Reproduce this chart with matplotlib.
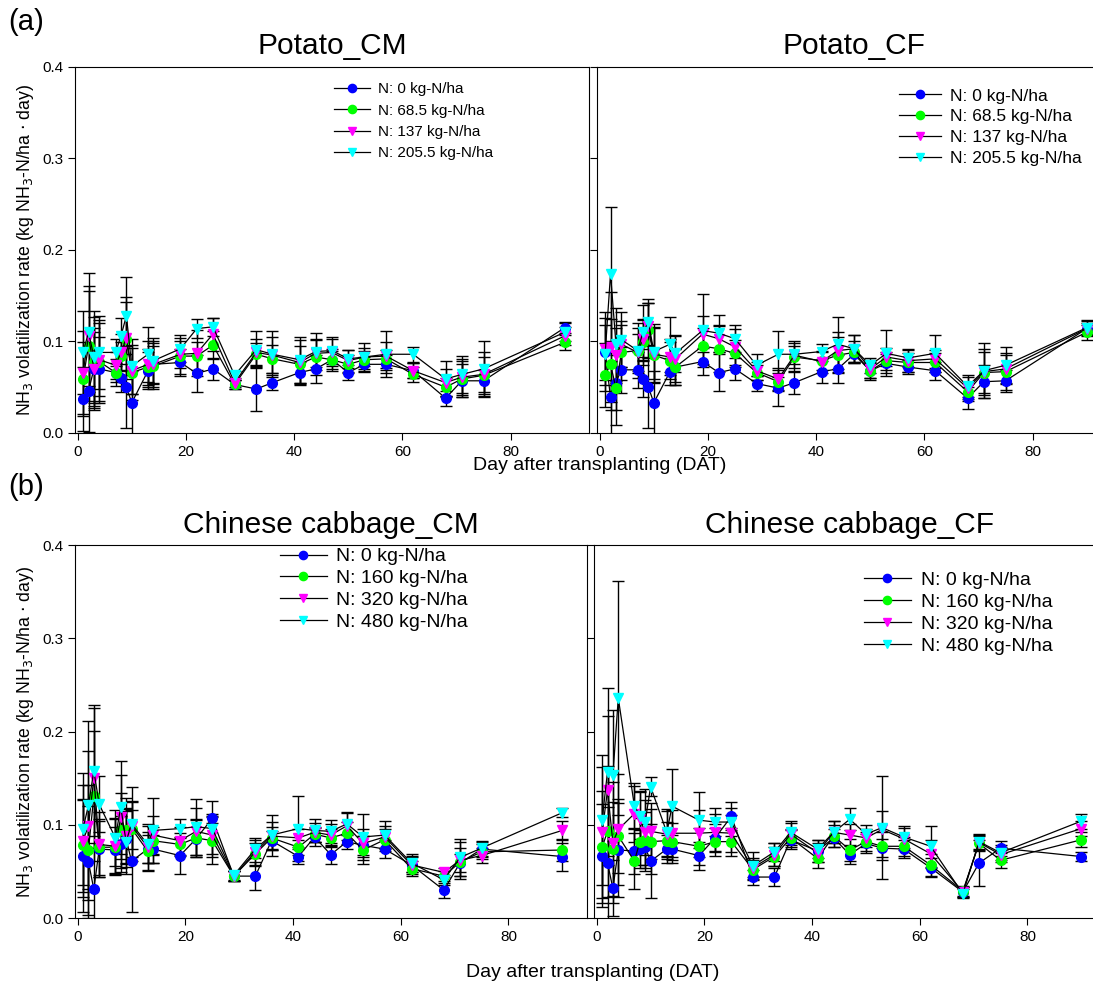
import matplotlib
matplotlib.use('Agg')
import matplotlib.pyplot as plt
import numpy as np

plt.rcParams['font.family'] = ['Liberation Sans', 'DejaVu Sans']

# dias de muestreo (iguales en los cuatro paneles)
days = [1, 2, 3, 4, 7, 8, 9, 10, 13, 14, 19, 22, 25, 29, 33, 36, 41, 44, 47, 50, 53, 57, 62, 68, 71, 75, 90]

labels_potato = ['N: 0 kg-N/ha', 'N: 68.5 kg-N/ha', 'N: 137 kg-N/ha', 'N: 205.5 kg-N/ha']
labels_cabbage = ['N: 0 kg-N/ha', 'N: 160 kg-N/ha', 'N: 320 kg-N/ha', 'N: 480 kg-N/ha']

# Potato_CM
pcm_0 = [0.037, 0.046, 0.070, 0.070, 0.066, 0.060, 0.050, 0.033, 0.068, 0.075, 0.077, 0.065, 0.070, 0.053, 0.048, 0.055, 0.066, 0.070, 0.080, 0.066, 0.075, 0.075, 0.068, 0.038, 0.057, 0.057, 0.115]
pcm_1 = [0.059, 0.095, 0.077, 0.078, 0.066, 0.084, 0.103, 0.066, 0.072, 0.073, 0.084, 0.084, 0.096, 0.053, 0.086, 0.081, 0.075, 0.083, 0.080, 0.075, 0.080, 0.081, 0.064, 0.050, 0.059, 0.063, 0.099]
pcm_2 = [0.066, 0.106, 0.070, 0.080, 0.074, 0.088, 0.104, 0.068, 0.075, 0.075, 0.086, 0.087, 0.108, 0.055, 0.088, 0.085, 0.077, 0.087, 0.088, 0.079, 0.083, 0.084, 0.068, 0.055, 0.061, 0.064, 0.106]
pcm_3 = [0.088, 0.110, 0.083, 0.088, 0.088, 0.106, 0.128, 0.073, 0.086, 0.079, 0.092, 0.114, 0.116, 0.063, 0.091, 0.086, 0.080, 0.089, 0.090, 0.081, 0.083, 0.086, 0.086, 0.059, 0.064, 0.070, 0.110]
pcm_e0 = [0.035, 0.045, 0.040, 0.035, 0.010, 0.015, 0.045, 0.035, 0.020, 0.020, 0.015, 0.020, 0.012, 0.005, 0.024, 0.008, 0.012, 0.015, 0.010, 0.008, 0.008, 0.010, 0.008, 0.008, 0.018, 0.012, 0.006]
pcm_e1 = [0.040, 0.060, 0.050, 0.045, 0.015, 0.015, 0.040, 0.030, 0.020, 0.025, 0.020, 0.015, 0.015, 0.005, 0.012, 0.015, 0.020, 0.020, 0.012, 0.010, 0.010, 0.010, 0.008, 0.010, 0.020, 0.020, 0.008]
pcm_e2 = [0.045, 0.055, 0.045, 0.040, 0.015, 0.020, 0.045, 0.025, 0.025, 0.025, 0.015, 0.025, 0.018, 0.005, 0.015, 0.020, 0.025, 0.015, 0.015, 0.012, 0.010, 0.015, 0.008, 0.015, 0.020, 0.025, 0.010]
pcm_e3 = [0.045, 0.065, 0.050, 0.040, 0.015, 0.020, 0.042, 0.030, 0.030, 0.025, 0.015, 0.010, 0.010, 0.005, 0.020, 0.025, 0.025, 0.020, 0.015, 0.010, 0.015, 0.025, 0.008, 0.020, 0.020, 0.030, 0.010]

# Potato_CF
pcf_0 = [0.088, 0.039, 0.055, 0.069, 0.069, 0.059, 0.050, 0.033, 0.067, 0.072, 0.078, 0.066, 0.070, 0.054, 0.049, 0.055, 0.067, 0.070, 0.086, 0.068, 0.076, 0.072, 0.068, 0.038, 0.056, 0.057, 0.114]
pcf_1 = [0.063, 0.075, 0.049, 0.088, 0.090, 0.099, 0.112, 0.085, 0.079, 0.072, 0.095, 0.092, 0.087, 0.066, 0.056, 0.083, 0.079, 0.085, 0.088, 0.068, 0.079, 0.077, 0.077, 0.045, 0.066, 0.067, 0.110]
pcf_2 = [0.092, 0.094, 0.085, 0.097, 0.088, 0.103, 0.117, 0.086, 0.083, 0.081, 0.108, 0.103, 0.094, 0.068, 0.059, 0.085, 0.078, 0.090, 0.092, 0.070, 0.083, 0.079, 0.081, 0.049, 0.067, 0.070, 0.114]
pcf_3 = [0.086, 0.174, 0.097, 0.102, 0.090, 0.110, 0.121, 0.089, 0.097, 0.087, 0.112, 0.109, 0.103, 0.074, 0.086, 0.086, 0.089, 0.097, 0.092, 0.074, 0.087, 0.082, 0.087, 0.051, 0.068, 0.074, 0.115]
pcf_e0 = [0.030, 0.040, 0.030, 0.025, 0.020, 0.020, 0.045, 0.035, 0.015, 0.020, 0.015, 0.020, 0.012, 0.008, 0.020, 0.012, 0.012, 0.015, 0.010, 0.008, 0.010, 0.008, 0.010, 0.012, 0.018, 0.012, 0.006]
pcf_e1 = [0.035, 0.050, 0.040, 0.030, 0.025, 0.025, 0.030, 0.030, 0.020, 0.020, 0.020, 0.025, 0.015, 0.008, 0.010, 0.015, 0.010, 0.020, 0.012, 0.010, 0.010, 0.010, 0.010, 0.010, 0.022, 0.020, 0.008]
pcf_e2 = [0.040, 0.060, 0.030, 0.025, 0.020, 0.020, 0.025, 0.030, 0.020, 0.025, 0.020, 0.015, 0.020, 0.010, 0.012, 0.010, 0.012, 0.020, 0.015, 0.010, 0.010, 0.012, 0.010, 0.012, 0.025, 0.015, 0.008]
pcf_e3 = [0.040, 0.073, 0.040, 0.030, 0.030, 0.030, 0.025, 0.030, 0.030, 0.020, 0.040, 0.020, 0.015, 0.012, 0.025, 0.015, 0.008, 0.030, 0.015, 0.008, 0.025, 0.010, 0.020, 0.012, 0.030, 0.020, 0.008]

# Chinese cabbage_CM
ccm_0 = [0.067, 0.060, 0.031, 0.074, 0.073, 0.079, 0.085, 0.061, 0.074, 0.074, 0.067, 0.085, 0.107, 0.045, 0.045, 0.083, 0.066, 0.087, 0.068, 0.082, 0.078, 0.074, 0.057, 0.030, 0.059, 0.074, 0.066]
ccm_1 = [0.078, 0.073, 0.131, 0.076, 0.076, 0.094, 0.094, 0.096, 0.072, 0.083, 0.079, 0.086, 0.083, 0.045, 0.069, 0.086, 0.076, 0.090, 0.086, 0.091, 0.073, 0.084, 0.053, 0.045, 0.060, 0.071, 0.073]
ccm_2 = [0.083, 0.099, 0.150, 0.079, 0.077, 0.108, 0.088, 0.099, 0.076, 0.089, 0.083, 0.093, 0.089, 0.045, 0.071, 0.088, 0.086, 0.092, 0.089, 0.099, 0.080, 0.087, 0.057, 0.049, 0.062, 0.067, 0.094]
ccm_3 = [0.096, 0.121, 0.158, 0.122, 0.086, 0.119, 0.082, 0.101, 0.079, 0.094, 0.096, 0.098, 0.096, 0.046, 0.074, 0.089, 0.096, 0.094, 0.093, 0.101, 0.087, 0.089, 0.059, 0.041, 0.065, 0.075, 0.113]
ccm_e0 = [0.060, 0.060, 0.050, 0.030, 0.025, 0.030, 0.030, 0.055, 0.015, 0.015, 0.020, 0.020, 0.005, 0.005, 0.015, 0.010, 0.008, 0.010, 0.010, 0.008, 0.010, 0.010, 0.008, 0.008, 0.010, 0.008, 0.015]
ccm_e1 = [0.050, 0.070, 0.070, 0.030, 0.030, 0.040, 0.035, 0.030, 0.020, 0.015, 0.012, 0.020, 0.025, 0.005, 0.012, 0.012, 0.008, 0.008, 0.010, 0.012, 0.015, 0.012, 0.008, 0.005, 0.015, 0.008, 0.012]
ccm_e2 = [0.060, 0.080, 0.075, 0.035, 0.030, 0.045, 0.030, 0.025, 0.025, 0.020, 0.015, 0.025, 0.020, 0.005, 0.015, 0.015, 0.010, 0.010, 0.012, 0.015, 0.015, 0.012, 0.010, 0.005, 0.020, 0.008, 0.010]
ccm_e3 = [0.060, 0.090, 0.070, 0.030, 0.030, 0.050, 0.035, 0.040, 0.020, 0.035, 0.010, 0.030, 0.030, 0.005, 0.010, 0.022, 0.035, 0.012, 0.012, 0.012, 0.025, 0.015, 0.010, 0.005, 0.020, 0.008, 0.005]

# Chinese cabbage_CF
ccf_0 = [0.067, 0.059, 0.032, 0.073, 0.072, 0.074, 0.076, 0.061, 0.074, 0.074, 0.067, 0.086, 0.109, 0.044, 0.044, 0.084, 0.072, 0.086, 0.068, 0.080, 0.075, 0.074, 0.054, 0.028, 0.059, 0.075, 0.066]
ccf_1 = [0.076, 0.093, 0.074, 0.088, 0.061, 0.082, 0.084, 0.082, 0.083, 0.082, 0.077, 0.082, 0.082, 0.052, 0.066, 0.086, 0.064, 0.088, 0.073, 0.082, 0.077, 0.077, 0.057, 0.029, 0.080, 0.062, 0.084]
ccf_2 = [0.092, 0.137, 0.081, 0.095, 0.112, 0.106, 0.092, 0.093, 0.090, 0.091, 0.091, 0.092, 0.091, 0.054, 0.068, 0.090, 0.070, 0.092, 0.089, 0.086, 0.095, 0.085, 0.069, 0.028, 0.081, 0.068, 0.096]
ccf_3 = [0.105, 0.157, 0.153, 0.236, 0.120, 0.110, 0.103, 0.141, 0.092, 0.120, 0.105, 0.103, 0.103, 0.056, 0.071, 0.092, 0.074, 0.092, 0.106, 0.090, 0.097, 0.087, 0.077, 0.026, 0.082, 0.070, 0.104]
ccf_e0 = [0.055, 0.060, 0.030, 0.050, 0.025, 0.020, 0.025, 0.040, 0.015, 0.015, 0.015, 0.015, 0.015, 0.008, 0.010, 0.010, 0.012, 0.010, 0.010, 0.010, 0.010, 0.010, 0.010, 0.005, 0.025, 0.008, 0.005]
ccf_e1 = [0.060, 0.070, 0.050, 0.040, 0.030, 0.025, 0.030, 0.035, 0.020, 0.020, 0.020, 0.015, 0.015, 0.010, 0.010, 0.010, 0.010, 0.012, 0.012, 0.010, 0.015, 0.010, 0.012, 0.005, 0.008, 0.008, 0.008]
ccf_e2 = [0.070, 0.080, 0.065, 0.060, 0.030, 0.030, 0.035, 0.030, 0.025, 0.025, 0.025, 0.020, 0.020, 0.010, 0.012, 0.012, 0.010, 0.012, 0.012, 0.010, 0.020, 0.012, 0.015, 0.005, 0.008, 0.008, 0.008]
ccf_e3 = [0.070, 0.090, 0.070, 0.125, 0.025, 0.025, 0.035, 0.010, 0.025, 0.040, 0.030, 0.015, 0.015, 0.015, 0.010, 0.012, 0.010, 0.012, 0.012, 0.010, 0.055, 0.012, 0.022, 0.005, 0.008, 0.008, 0.008]

colors = ['#0000ff', '#00ff00', '#ff00ff', '#00ffff']
markers = ['o', 'o', 'v', 'v']


def panel(ax, series, errs, labels, title, leg_anchor, leg_size, leg_space, show_ylabels):
    for y, e, c, m, lab in zip(series, errs, colors, markers, labels):
        ax.errorbar(days, y, yerr=e, color='black', ecolor='black', elinewidth=1.0,
                    capsize=4.5, capthick=1.0, linewidth=0.9, marker=m, markersize=7,
                    markerfacecolor=c, markeredgecolor=c, label=lab, zorder=3)
    ax.set_xlim(-0.5, 94.5)
    ax.set_ylim(0, 0.4)
    ax.set_xticks([0, 20, 40, 60, 80])
    ax.set_yticks([0.0, 0.1, 0.2, 0.3, 0.4])
    ax.tick_params(direction='out', length=5, labelsize=11)
    if show_ylabels:
        ax.set_yticklabels(['0.0', '0.1', '0.2', '0.3', '0.4'])
        ax.set_ylabel('NH$_3$ volatilization rate (kg NH$_3$-N/ha $\\cdot$ day)', fontsize=12.7, labelpad=4)
    else:
        ax.set_yticklabels([])
    ax.set_title(title, fontsize=21.5, pad=9)
    handles, labs = ax.get_legend_handles_labels()
    handles = [h[0] for h in handles]
    ax.legend(handles, labs, loc='upper right', bbox_to_anchor=leg_anchor, frameon=False,
              fontsize=leg_size, handlelength=2.4, labelspacing=leg_space, handletextpad=0.5,
              markerscale=0.85)


fig = plt.figure(figsize=(10.93, 9.84), dpi=100)

ax1 = fig.add_axes([0.0686, 0.560, 0.4703, 0.372])
ax2 = fig.add_axes([0.5462, 0.560, 0.4703, 0.372])
ax3 = fig.add_axes([0.0686, 0.067, 0.4680, 0.379])
ax4 = fig.add_axes([0.5435, 0.067, 0.4680, 0.379])

panel(ax1, [pcm_0, pcm_1, pcm_2, pcm_3], [pcm_e0, pcm_e1, pcm_e2, pcm_e3],
      labels_potato, 'Potato_CM', (0.84, 0.995), 11, 0.48, True)
panel(ax2, [pcf_0, pcf_1, pcf_2, pcf_3], [pcf_e0, pcf_e1, pcf_e2, pcf_e3],
      labels_potato, 'Potato_CF', (0.973, 0.984), 12.5, 0.33, False)
panel(ax3, [ccm_0, ccm_1, ccm_2, ccm_3], [ccm_e0, ccm_e1, ccm_e2, ccm_e3],
      labels_cabbage, 'Chinese cabbage_CM', (0.803, 1.04), 14, 0.22, True)
panel(ax4, [ccf_0, ccf_1, ccf_2, ccf_3], [ccf_e0, ccf_e1, ccf_e2, ccf_e3],
      labels_cabbage, 'Chinese cabbage_CF', (0.93, 0.976), 14, 0.22, False)

fig.text(0.549, 0.527, 'Day after transplanting (DAT)', ha='center', va='center', fontsize=14)
fig.text(0.542, 0.012, 'Day after transplanting (DAT)', ha='center', va='center', fontsize=14)
fig.text(0.008, 0.978, '(a)', ha='left', va='center', fontsize=21)
fig.text(0.008, 0.505, '(b)', ha='left', va='center', fontsize=21)

fig.savefig('out.png', dpi=100)
